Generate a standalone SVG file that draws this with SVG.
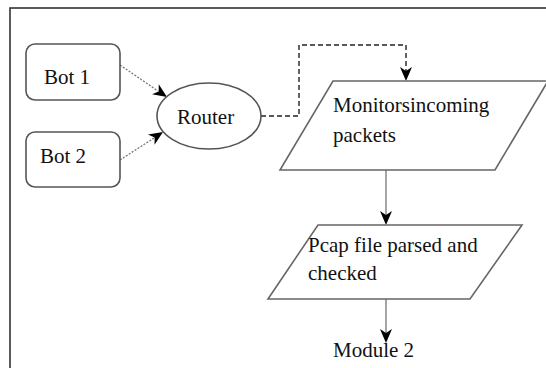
<svg xmlns="http://www.w3.org/2000/svg" width="546" height="368" viewBox="0 0 546 368">
  <style>
    .lbl { font-family: "Liberation Serif", "DejaVu Serif", serif; font-size: 21px; fill: #111; }
    .box { fill: #fff; stroke: #555; stroke-width: 1.6; }
    .para { fill: #fff; stroke: #666; stroke-width: 1.6; }
    .dot { fill: none; stroke: #777; stroke-width: 1.3; stroke-dasharray: 2 1.5; }
    .dash { fill: none; stroke: #222; stroke-width: 1.4; stroke-dasharray: 5 3; }
    .solid { fill: none; stroke: #888; stroke-width: 1.5; }
    .head { fill: #000; stroke: none; }
  </style>

  <rect width="546" height="368" fill="#fff"/>
  <!-- outer frame -->
  <rect x="10" y="8" width="600" height="420" fill="none" stroke="#333" stroke-width="1.6"/>

  <g id="connectors">
    <line class="dot" x1="120" y1="65" x2="158" y2="91"/>
    <path class="head" d="M0,0 L-14,-6 L-10,0 L-14,6 Z" transform="translate(167,97) rotate(34)"/>
    <line class="dot" x1="120" y1="160" x2="154" y2="138"/>
    <path class="head" d="M0,0 L-14,-6 L-10,0 L-14,6 Z" transform="translate(163,132) rotate(-33)"/>
    <polyline class="dash" points="261,116 299,116 299,45 406,45 406,72"/>
    <path class="head" d="M0,0 L-14,-6 L-10,0 L-14,6 Z" transform="translate(406,81) rotate(90)"/>
    <line class="solid" x1="386" y1="170" x2="386" y2="216"/>
    <path class="head" d="M0,0 L-14,-6 L-10,0 L-14,6 Z" transform="translate(386,225) rotate(90)"/>
    <line class="solid" x1="386" y1="299" x2="386" y2="334"/>
    <path class="head" d="M0,0 L-14,-6 L-10,0 L-14,6 Z" transform="translate(386,343) rotate(90)"/>
  </g>

  <g id="bot1">
    <rect class="box" x="26" y="44" width="94" height="56" rx="9"/>
    <text class="lbl" x="44" y="84">Bot 1</text>
  </g>
  <g id="bot2">
    <rect class="box" x="26" y="132" width="94" height="55" rx="9"/>
    <text class="lbl" x="40" y="163">Bot 2</text>
  </g>
  <g id="router">
    <ellipse class="box" cx="209" cy="116" rx="52" ry="33"/>
    <text class="lbl" x="177" y="124">Router</text>
  </g>
  <g id="monitor">
    <polygon class="para" points="333,81 548,81 495,170 280,170"/>
    <text class="lbl" x="333" y="112">Monitorsincoming</text>
    <text class="lbl" x="333" y="142">packets</text>
  </g>
  <g id="pcap">
    <polygon class="para" points="318,225 522,225 470,299 268,299"/>
    <text class="lbl" x="308" y="252">Pcap file parsed and</text>
    <text class="lbl" x="308" y="280">checked</text>
  </g>
  <g id="module2">
    <text class="lbl" x="333" y="357">Module 2</text>
  </g>
</svg>
